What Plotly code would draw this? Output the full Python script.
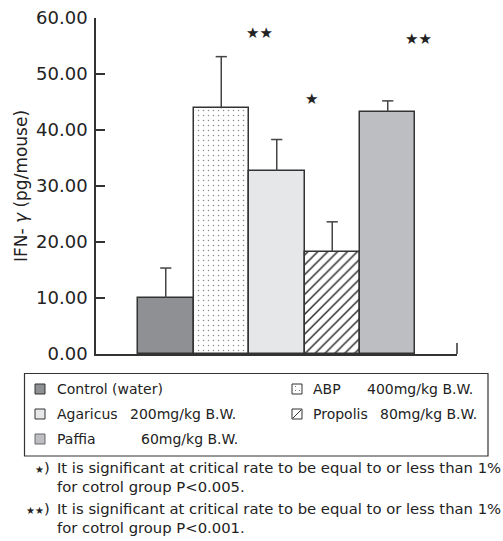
import plotly.graph_objects as go

# ---------------- data ----------------
groups = ["Control (water)", "ABP", "Agaricus", "Propolis", "Paffia"]
means = [10.0, 43.9, 32.7, 18.3, 43.3]
sd_upper = [5.35, 9.2, 5.6, 5.3, 1.9]
fill_colors = ["#8f9094", "#ffffff", "#e6e7e9", "#ffffff", "#bdbec2"]
pattern_shapes = ["", ".", "", "/", ""]
y_ticks = [0, 10, 20, 30, 40, 50, 60]
y_tick_labels = [f"{v:.2f}" for v in y_ticks]

sig_marks = ["★★", "★", "★★"]
sig_x = [1.69, 2.63, 4.56]
sig_y = [57.3, 45.5, 56.25]

legend_names = ["Control (water)", "ABP", "Agaricus", "Propolis", "Paffia"]
legend_doses = ["", "400mg/kg B.W.", "200mg/kg B.W.", "80mg/kg B.W.", "60mg/kg B.W."]

foot_marks = ["★", "★★"]
foot_lines = [
    ["It is significant at critical rate to be equal to or less than 1%", "for cotrol group P<0.005."],
    ["It is significant at critical rate to be equal to or less than 1%", "for cotrol group P<0.001."],
]

# ---------------- layout helpers ----------------
W_, H_ = 503, 541
L, T, PW, PH = 96, 18, 361, 336
FONT = "DejaVu Sans"
EDGE = "#333333"
TXT = "#222222"
ERR = "#444444"


def px(x):
    return (x - L) / PW


def py(y):
    return (T + PH - y) / PH


pattern_style = {
    ".": dict(fgcolor="#8a8a8a", size=5, solidity=0.07),
    "/": dict(fgcolor="#222222", size=7, solidity=0.2),
}

fig = go.Figure()
for i, g in enumerate(groups):
    pat = dict(shape=pattern_shapes[i], bgcolor=fill_colors[i], fillmode="replace",
               **pattern_style.get(pattern_shapes[i], {}))
    fig.add_trace(go.Bar(
        x=[i], y=[means[i]], name=g, width=1,
        marker=dict(color=fill_colors[i], line=dict(color=EDGE, width=1.5),
                    pattern=pat if pattern_shapes[i] else None),
        error_y=dict(type="data", symmetric=False, array=[sd_upper[i]],
                     arrayminus=[0], color=ERR, thickness=1.5, width=0),
        showlegend=False, hoverinfo="skip",
    ))

# caps on the upper end of the (one-sided) error bars only
fig.add_trace(go.Scatter(
    x=list(range(len(groups))),
    y=[m + s for m, s in zip(means, sd_upper)],
    mode="markers",
    marker=dict(symbol="line-ew", size=8, line=dict(color=ERR, width=1.5)),
    showlegend=False, hoverinfo="skip",
))

shapes = []
annotations = []

# significance stars
for m, sx, sy in zip(sig_marks, sig_x, sig_y):
    annotations.append(dict(x=sx, y=sy, xref="x", yref="y", text=m, showarrow=False,
                            font=dict(family=FONT, size=15, color=TXT),
                            xanchor="center", yanchor="middle"))

# right-end tick of x axis
shapes.append(dict(type="line", xref="paper", yref="paper", x0=1, x1=1,
                   y0=0, y1=py(343), line=dict(color=EDGE, width=1.5)))

# legend box
shapes.append(dict(type="rect", xref="paper", yref="paper",
                   x0=px(24.5), x1=px(488), y0=py(456), y1=py(373.5),
                   line=dict(color=EDGE, width=1.2), fillcolor="rgba(0,0,0,0)"))

leg_pos = {  # (square left, row center, text left, dose left)
    0: (35, 389, 55, None),
    1: (292, 389, 311, 365),
    2: (35, 414, 55, 128),
    3: (292, 414, 311, 378),
    4: (35, 439, 55, 139),
}
for i, name in enumerate(legend_names):
    sqx, cy, tx, dx = leg_pos[i]
    s = 10
    shapes.append(dict(type="rect", xref="paper", yref="paper",
                       x0=px(sqx), x1=px(sqx + s), y0=py(cy + s / 2), y1=py(cy - s / 2),
                       line=dict(color=EDGE if i != 4 else "#666666", width=1),
                       fillcolor=fill_colors[i]))
    if pattern_shapes[i] == "/":
        shapes.append(dict(type="line", xref="paper", yref="paper",
                           x0=px(sqx + 1), x1=px(sqx + s - 1),
                           y0=py(cy + s / 2 - 1), y1=py(cy - s / 2 + 1),
                           line=dict(color=EDGE, width=1)))
    elif pattern_shapes[i] == ".":
        for ddx, ddy in [(3, -2), (7, 2), (3, 2)]:
            shapes.append(dict(type="rect", xref="paper", yref="paper",
                               x0=px(sqx + ddx), x1=px(sqx + ddx + 1),
                               y0=py(cy + ddy), y1=py(cy + ddy - 1),
                               line=dict(width=0), fillcolor="#777777"))
    annotations.append(dict(x=px(tx), y=py(cy), xref="paper", yref="paper",
                            text=name, showarrow=False, xanchor="left", yanchor="middle",
                            font=dict(family=FONT, size=14, color=TXT)))
    if legend_doses[i]:
        annotations.append(dict(x=px(dx), y=py(cy), xref="paper", yref="paper",
                                text=legend_doses[i], showarrow=False,
                                xanchor="left", yanchor="middle",
                                font=dict(family=FONT, size=14, color=TXT)))

# footnotes
foot_rows = [(467, 486), (508, 527)]
for mark, lines, (y1, y2) in zip(foot_marks, foot_lines, foot_rows):
    annotations.append(dict(x=px(52), y=py(y1), xref="paper", yref="paper",
                            text=f"<span style='font-size:10px'>{mark}</span>)",
                            showarrow=False, xanchor="right", yanchor="middle",
                            font=dict(family=FONT, size=14.8, color=TXT)))
    for txt, yy in zip(lines, (y1, y2)):
        annotations.append(dict(x=px(55), y=py(yy), xref="paper", yref="paper",
                                text=txt, showarrow=False, xanchor="left", yanchor="middle",
                                font=dict(family=FONT, size=14.8, color=TXT)))

fig.update_layout(
    width=W_, height=H_,
    margin=dict(l=L, r=W_ - L - PW, t=T, b=H_ - T - PH, autoexpand=False),
    paper_bgcolor="white", plot_bgcolor="white",
    barmode="overlay", bargap=0,
    font=dict(family=FONT, color=TXT),
    xaxis=dict(range=[-1.257, 5.248], showgrid=False, zeroline=False,
               showline=True, linecolor=EDGE, linewidth=1.5,
               showticklabels=False, ticks="", fixedrange=True),
    yaxis=dict(range=[0, 60], showgrid=False, zeroline=False,
               showline=True, linecolor=EDGE, linewidth=1.5,
               tickvals=y_ticks, ticktext=y_tick_labels,
               ticks="inside", ticklen=9, tickwidth=1.5, tickcolor=EDGE,
               ticklabelstandoff=3,
               tickfont=dict(family=FONT, size=18, color=TXT),
               title=dict(text="IFN- <i>γ</i> (pg/mouse)", standoff=4,
                          font=dict(family=FONT, size=17, color=TXT)),
               fixedrange=True),
    shapes=shapes,
    annotations=annotations,
)

fig.write_html("out.html", config={"displayModeBar": False},
               post_script="document.body.style.margin='0px';")
